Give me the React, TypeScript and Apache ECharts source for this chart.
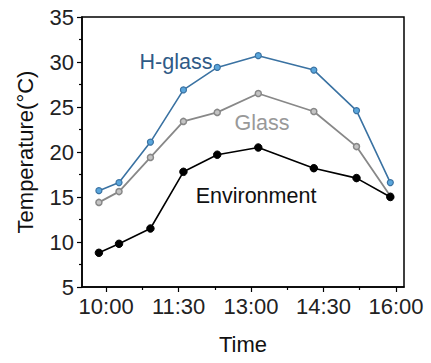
import React, { useEffect, useRef } from "react";
import * as echarts from "echarts";

// time in minutes since midnight
const times = [591, 616, 655, 696, 738, 789, 858, 911, 953];
const hGlass = [15.7, 16.6, 21.1, 26.9, 29.4, 30.7, 29.1, 24.6, 16.6];
const glass = [14.4, 15.6, 19.4, 23.4, 24.4, 26.5, 24.5, 20.6, 15.1];
const environment = [8.8, 9.8, 11.5, 17.8, 19.7, 20.5, 18.2, 17.1, 15.0];
const majorTimeTicks = [600, 690, 780, 870, 960];
const minorTimeTicks = [645, 735, 825, 915];

const fmt = (v: number) => {
  const h = Math.floor(v / 60);
  const m = Math.round(v % 60);
  return `${h}:${m < 10 ? "0" + m : m}`;
};

const font = "'Liberation Sans', Arial, sans-serif";

export default function App() {
  const ref = useRef<HTMLDivElement>(null);
  useEffect(() => {
    const chart = echarts.init(ref.current!, null, { renderer: "svg" });
    const pair = (vals: number[]) => times.map((t, i) => [t, vals[i]]);
    chart.setOption({
      animation: false,
      backgroundColor: "#fff",
      grid: {
        left: 82,
        top: 17,
        right: 27,
        bottom: 76,
        show: true,
        borderColor: "#000",
        borderWidth: 1.5,
      },
      xAxis: [
        {
          type: "value",
          min: 570,
          max: 970,
          name: "Time",
          nameLocation: "middle",
          nameGap: 46,
          nameTextStyle: { fontFamily: font, fontSize: 22, color: "#111" },
          splitLine: { show: false },
          axisLine: { lineStyle: { color: "#000", width: 1.5 } },
          axisTick: {
            customValues: majorTimeTicks,
            length: 5,
            lineStyle: { color: "#000", width: 1.2 },
          },
          axisLabel: {
            customValues: majorTimeTicks,
            formatter: (v: number) => fmt(v),
            fontFamily: font,
            fontSize: 22,
            color: "#222",
            margin: 8,
          },
        },
        {
          type: "value",
          min: 570,
          max: 970,
          position: "bottom",
          splitLine: { show: false },
          axisLine: { show: false },
          axisTick: {
            customValues: minorTimeTicks,
            length: 3,
            lineStyle: { color: "#000", width: 1.2 },
          },
          axisLabel: { show: false },
        },
      ],
      yAxis: {
        type: "value",
        min: 5,
        max: 35,
        interval: 5,
        name: "Temperature(°C)",
        nameLocation: "middle",
        nameGap: 46,
        nameTextStyle: { fontFamily: font, fontSize: 22, color: "#111" },
        splitLine: { show: false },
        axisLine: { show: true, lineStyle: { color: "#000", width: 1.5 } },
        axisTick: { show: true, length: 5, lineStyle: { color: "#000", width: 1.2 } },
        minorTick: { show: true, splitNumber: 2, length: 3, lineStyle: { color: "#000", width: 1.2 } },
        axisLabel: { fontFamily: font, fontSize: 22, color: "#222", margin: 8 },
      },
      series: [
        {
          name: "Environment",
          type: "line",
          data: pair(environment),
          symbol: "circle",
          symbolSize: 7.5,
          lineStyle: { color: "#000", width: 1.6 },
          itemStyle: { color: "#000", borderColor: "#000", borderWidth: 1 },
          z: 3,
        },
        {
          name: "Glass",
          type: "line",
          data: pair(glass),
          symbol: "circle",
          symbolSize: 6,
          lineStyle: { color: "#888", width: 1.8 },
          itemStyle: { color: "#c4c4c4", borderColor: "#888", borderWidth: 1.5 },
          z: 2,
        },
        {
          name: "H-glass",
          type: "line",
          data: pair(hGlass),
          symbol: "circle",
          symbolSize: 6,
          lineStyle: { color: "#3a72a2", width: 1.6 },
          itemStyle: { color: "#5aa6dc", borderColor: "#3a72a2", borderWidth: 1.2 },
          z: 4,
        },
      ],
      graphic: [
        {
          type: "text",
          x: 176,
          y: 62,
          style: {
            text: "H-glass",
            fontFamily: font,
            fontSize: 21.5,
            fill: "#2f5a86",
            align: "center",
            verticalAlign: "middle",
          },
        },
        {
          type: "text",
          x: 262,
          y: 123,
          style: {
            text: "Glass",
            fontFamily: font,
            fontSize: 21.5,
            fill: "#999",
            align: "center",
            verticalAlign: "middle",
          },
        },
        {
          type: "text",
          x: 256,
          y: 196,
          style: {
            text: "Environment",
            fontFamily: font,
            fontSize: 21.5,
            fill: "#111",
            align: "center",
            verticalAlign: "middle",
          },
        },
      ],
    });
    return () => chart.dispose();
  }, []);
  return <div ref={ref} style={{ width: 431, height: 363, position: "absolute", left: 0, top: 0 }} />;
}
